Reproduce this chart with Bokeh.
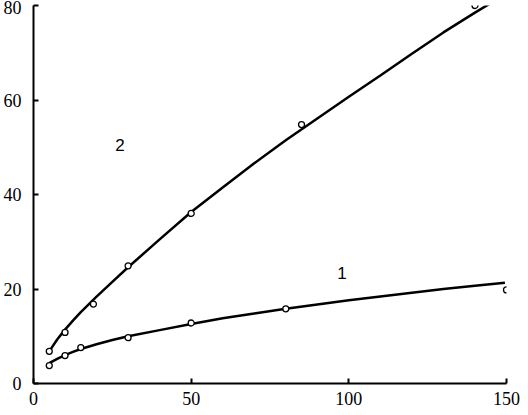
from bokeh.plotting import figure
from bokeh.models import Range1d, FixedTicker
from bokeh.core.properties import value
from bokeh.embed import file_html
from bokeh.resources import INLINE

# Series 1: measured points and fitted curve
x1_pts = [5, 10, 15, 30, 50, 80, 150]
y1_pts = [3.8, 5.9, 7.6, 9.7, 12.8, 15.8, 19.8]
x1_fit = [5, 7.5, 10, 12.5, 15, 20, 25, 30, 40, 50, 60, 70, 80, 90, 100, 110, 120, 130, 140, 149.5]
y1_fit = [4.3, 5.2, 6.0, 6.7, 7.3, 8.3, 9.2, 10.0, 11.3, 12.6, 13.8, 14.8, 15.8, 16.7, 17.6, 18.4, 19.2, 20.0, 20.7, 21.3]

# Series 2: measured points and fitted curve
x2_pts = [5, 10, 19, 30, 50, 85, 140]
y2_pts = [6.8, 10.8, 16.8, 24.9, 36.0, 54.8, 80.0]
x2_fit = [5, 7.5, 10, 12.5, 15, 20, 25, 30, 40, 50, 60, 70, 80, 90, 100, 110, 120, 130, 140, 145]
y2_fit = [6.8, 9.3, 11.4, 13.3, 15.1, 18.4, 21.5, 24.6, 30.5, 36.3, 41.5, 46.6, 51.5, 56.1, 60.7, 65.2, 69.8, 74.3, 78.5, 80.5]

# Curve labels
label_x = [97.8, 27.4]
label_y = [23.4, 50.5]
label_text = ["1", "2"]

x_ticks = [0, 50, 100, 150]
y_ticks = [0, 20, 40, 60, 80]

p = figure(width=520, height=407, output_backend="svg", toolbar_location=None,
           x_range=Range1d(0, 150), y_range=Range1d(0, 80),
           min_border_top=5, min_border_right=14, min_border_left=0, min_border_bottom=0)
p.outline_line_color = None
p.xgrid.grid_line_color = None
p.ygrid.grid_line_color = None

for ax, ticks in ((p.xaxis[0], x_ticks), (p.yaxis[0], y_ticks)):
    ax.ticker = FixedTicker(ticks=ticks)
    ax.minor_tick_line_color = None
    ax.major_tick_in = 5
    ax.major_tick_out = 0
    ax.axis_line_width = 2
    ax.major_tick_line_width = 2
    ax.axis_line_color = "black"
    ax.major_tick_line_color = "black"
    ax.major_label_text_font = "Liberation Serif"
    ax.major_label_text_font_size = "18px"
    ax.major_label_text_color = "black"
p.xaxis.major_label_standoff = 8
p.yaxis.major_label_standoff = 12

p.line(x1_fit, y1_fit, line_color="black", line_width=2.5)
p.line(x2_fit, y2_fit, line_color="black", line_width=2.5)
p.scatter(x1_pts, y1_pts, marker="circle", size=6, fill_color="white", line_color="black", line_width=1.3)
p.scatter(x2_pts, y2_pts, marker="circle", size=6, fill_color="white", line_color="black", line_width=1.3)

p.text(label_x, label_y, text=label_text, text_font=value("Liberation Sans"),
       text_font_size="17px", text_align="center", text_baseline="middle", text_color="black")

open("out.html", "w").write(file_html(p, INLINE))
